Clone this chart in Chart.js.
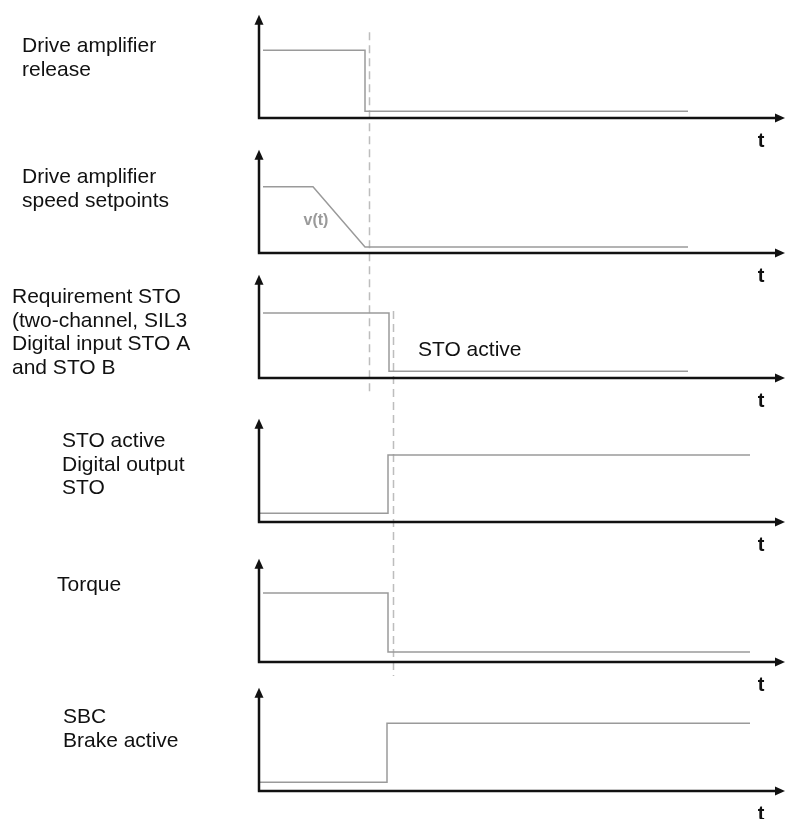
<!DOCTYPE html>
<html>
<head>
<meta charset="utf-8">
<title>STO / SBC timing diagram</title>
<script src="https://cdn.jsdelivr.net/npm/chart.js@4.4.1/dist/chart.umd.min.js"></script>
<style>
  html, body { margin: 0; padding: 0; background: #fff; }
  #timing { display: block; }
</style>
</head>
<body>
<canvas id="timing" width="786" height="819"></canvas>
<script>
// panel names, top to bottom
const panelLabels = [
  ["Drive amplifier", "release"],
  ["Drive amplifier", "speed setpoints"],
  ["Requirement STO", "(two-channel, SIL3", "Digital input STO A", "and STO B"],
  ["STO active", "Digital output", "STO"],
  ["Torque"],
  ["SBC", "Brake active"]
];

// time points (t units) and levels (1 = high) of each signal
const releaseT = [0.4, 10.6, 10.6, 42.9];
const releaseV = [1.01, 1.01, 0.1, 0.1];
const speedT   = [0.4, 5.4, 10.6, 42.9];
const speedV   = [0.99, 0.99, 0.09, 0.09];
const stoInT   = [0.4, 13.0, 13.0, 42.9];
const stoInV   = [0.97, 0.97, 0.1, 0.1];
const stoOutT  = [0, 12.9, 12.9, 49.1];
const stoOutV  = [0.13, 0.13, 1.0, 1.0];
const torqueT  = [0.4, 12.9, 12.9, 49.1];
const torqueV  = [1.03, 1.03, 0.15, 0.15];
const sbcT     = [0, 12.8, 12.8, 49.1];
const sbcV     = [0.13, 0.13, 1.01, 1.01];

// dashed reference instants
const markerT = [11.0, 13.4];

const axisName = "t";
const curveName = "v(t)";
const stoNote = "STO active";

// ---- layout (pixels) ----
const tMin = -25.9, tMax = 52.7;
const panelTop    = [0, 145, 270, 410, 550, 680];
const panelBottom = [145, 270, 410, 550, 680, 819];
const panelAxis   = [118, 253, 378, 522, 662, 791];
const unitPx = 67;
const arrowTop = 1.54;   // y-axis length in panel units
// dashed marker extent: [panel, value] top and bottom
const markerSpan = [
  [[0, 1.28], [2, -0.21]],
  [[2, 1.0], [4, -0.21]]
];
const labelX = [22, 22, 12, 62, 57, 63];
const labelY = [52, 183, 303, 447, 591, 723];
const lineH = 23.5;

const signals = [
  [releaseT, releaseV], [speedT, speedV], [stoInT, stoInV],
  [stoOutT, stoOutV], [torqueT, torqueV], [sbcT, sbcV]
];

const scales = {
  x: { type: 'linear', min: tMin, max: tMax, display: false }
};
panelLabels.forEach((lab, i) => {
  scales['p' + i] = {
    type: 'linear',
    position: 'left',
    stack: 'panels',
    stackWeight: panelBottom[i] - panelTop[i],
    weight: 10 - i,
    min: -(panelBottom[i] - panelAxis[i]) / unitPx,
    max: (panelAxis[i] - panelTop[i]) / unitPx,
    grid: { display: false, drawTicks: false, tickLength: 0 },
    border: { display: false },
    ticks: { display: false, padding: 0 }
  };
});

function arrowHead(ctx, x, y, dir) {
  // dir: 'up' or 'right'
  ctx.beginPath();
  if (dir === 'up') {
    ctx.moveTo(x, y);
    ctx.lineTo(x - 4.5, y + 10);
    ctx.lineTo(x + 4.5, y + 10);
  } else {
    ctx.moveTo(x, y);
    ctx.lineTo(x - 10, y - 4.5);
    ctx.lineTo(x - 10, y + 4.5);
  }
  ctx.closePath();
  ctx.fill();
}

const diagram = {
  id: 'diagram',
  beforeDatasetsDraw(chart) {
    const ctx = chart.ctx;
    const xs = chart.scales.x;
    ctx.save();
    ctx.strokeStyle = '#bdbdbd';
    ctx.lineWidth = 1.5;
    ctx.setLineDash([8, 5]);
    markerT.forEach((t, k) => {
      const top = markerSpan[k][0], bot = markerSpan[k][1];
      const x = Math.round(xs.getPixelForValue(t)) + 0.5;
      ctx.beginPath();
      ctx.moveTo(x, chart.scales['p' + top[0]].getPixelForValue(top[1]));
      ctx.lineTo(x, chart.scales['p' + bot[0]].getPixelForValue(bot[1]));
      ctx.stroke();
    });
    ctx.restore();
  },
  afterDatasetsDraw(chart) {
    const ctx = chart.ctx;
    const xs = chart.scales.x;
    const x0 = xs.getPixelForValue(0);
    const xEnd = xs.getPixelForValue(tMax) - 1;
    ctx.save();
    ctx.strokeStyle = '#111';
    ctx.fillStyle = '#111';
    ctx.lineWidth = 2.5;
    panelLabels.forEach((lab, i) => {
      const ys = chart.scales['p' + i];
      const y0 = ys.getPixelForValue(0);
      const yTop = ys.getPixelForValue(arrowTop);
      ctx.beginPath();
      ctx.moveTo(x0, y0);
      ctx.lineTo(x0, yTop + 6);
      ctx.moveTo(x0 - 1.2, y0);
      ctx.lineTo(xEnd - 6, y0);
      ctx.stroke();
      arrowHead(ctx, x0, yTop, 'up');
      arrowHead(ctx, xEnd, y0, 'right');

      ctx.font = 'bold 20px "Liberation Sans", Arial, sans-serif';
      ctx.textAlign = 'center';
      ctx.textBaseline = 'alphabetic';
      ctx.fillText(axisName, 761, y0 + 29);

      ctx.font = '21px "Liberation Sans", Arial, sans-serif';
      ctx.textAlign = 'left';
      lab.forEach((line, j) => {
        ctx.fillText(line, labelX[i], labelY[i] + j * lineH);
      });
    });

    // curve name on the speed setpoint ramp
    ctx.fillStyle = '#9a9a9a';
    ctx.font = 'bold 16px "Liberation Sans", Arial, sans-serif';
    ctx.textAlign = 'center';
    ctx.textBaseline = 'middle';
    ctx.fillText(curveName, xs.getPixelForValue(5.7), chart.scales.p1.getPixelForValue(0.48));

    // note in the STO request panel
    ctx.fillStyle = '#111';
    ctx.font = '21px "Liberation Sans", Arial, sans-serif';
    ctx.textAlign = 'left';
    ctx.fillText(stoNote, xs.getPixelForValue(15.9), chart.scales.p2.getPixelForValue(0.42));
    ctx.restore();
  }
};

const ctx = document.getElementById('timing').getContext('2d');
new Chart(ctx, {
  type: 'line',
  data: {
    datasets: signals.map((s, i) => ({
      label: panelLabels[i].join(' '),
      data: s[0].map((t, j) => ({ x: t, y: s[1][j] })),
      yAxisID: 'p' + i,
      borderColor: '#9a9a9a',
      borderWidth: 1.5,
      pointRadius: 0,
      pointHoverRadius: 0,
      tension: 0,
      fill: false
    }))
  },
  options: {
    responsive: false,
    animation: false,
    events: [],
    layout: { padding: 0, autoPadding: false },
    plugins: { legend: { display: false }, tooltip: { enabled: false } },
    scales: scales
  },
  plugins: [diagram]
});
</script>
</body>
</html>
